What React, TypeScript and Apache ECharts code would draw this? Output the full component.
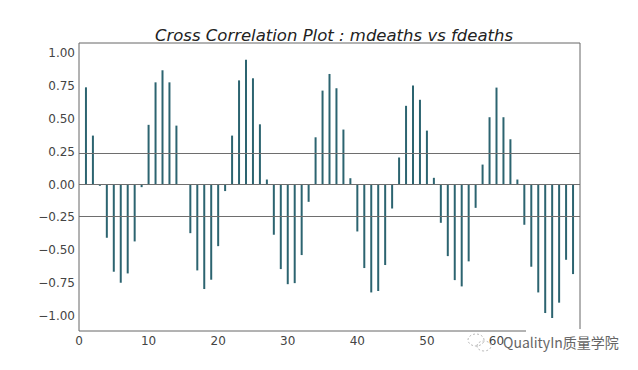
import React, { useEffect, useRef } from "react";
import * as echarts from "echarts";

const lags = [
  1, 2, 3, 4, 5, 6, 7, 8, 9, 10, 11, 12, 13, 14, 15, 16, 17, 18, 19, 20, 21, 22, 23, 24,
  25, 26, 27, 28, 29, 30, 31, 32, 33, 34, 35, 36, 37, 38, 39, 40, 41, 42, 43, 44, 45, 46, 47, 48,
  49, 50, 51, 52, 53, 54, 55, 56, 57, 58, 59, 60, 61, 62, 63, 64, 65, 66, 67, 68, 69, 70, 71,
];
const ccfValues = [
  0.741, 0.373, -0.01, -0.406, -0.665, -0.749, -0.678, -0.434, -0.02, 0.455, 0.779, 0.871,
  0.779, 0.449, 0.004, -0.371, -0.655, -0.797, -0.726, -0.47, -0.05, 0.373, 0.794, 0.952,
  0.81, 0.459, 0.038, -0.383, -0.645, -0.76, -0.752, -0.538, -0.132, 0.36, 0.716, 0.843,
  0.734, 0.419, 0.048, -0.358, -0.637, -0.823, -0.812, -0.614, -0.183, 0.206, 0.6, 0.754,
  0.646, 0.411, 0.051, -0.292, -0.546, -0.729, -0.777, -0.586, -0.178, 0.152, 0.513, 0.739,
  0.513, 0.345, 0.038, -0.307, -0.627, -0.823, -0.98, -1.018, -0.901, -0.574, -0.683,
];
const confLevel = 0.2357;
const hLines = [0, confLevel, -confLevel];
const xTicks = [0, 10, 20, 30, 40, 50, 60];
const yTicks = [-1, -0.75, -0.5, -0.25, 0, 0.25, 0.5, 0.75, 1];
const titleText = "Cross Correlation Plot : mdeaths vs fdeaths";
const watermarkText = "QualityIn质量学院";

export default function App() {
  const ref = useRef<HTMLDivElement>(null);
  useEffect(() => {
    if (!ref.current) return;
    const chart = echarts.init(ref.current, null, { renderer: "svg" });
    const font = "DejaVu Sans";
    chart.setOption({
      animation: false,
      backgroundColor: "#ffffff",
      title: {
        text: titleText,
        left: 329,
        textAlign: "center",
        top: 22,
        textStyle: {
          fontFamily: font,
          fontStyle: "italic",
          fontWeight: "normal",
          fontSize: 16.5,
          color: "#222",
        },
      },
      grid: {
        left: 79,
        right: 58,
        top: 43,
        bottom: 39,
        show: true,
        borderColor: "#666",
        borderWidth: 1,
        backgroundColor: "transparent",
      },
      xAxis: {
        type: "value",
        min: 0,
        max: 72,
        splitLine: { show: false },
        axisLine: { show: false },
        axisTick: { show: false },
        axisLabel: {
          customValues: xTicks,
          margin: 4,
          fontFamily: font,
          fontSize: 12,
          color: "#444",
        },
      },
      yAxis: {
        type: "value",
        min: -1.117,
        max: 1.079,
        splitLine: { show: false },
        axisLine: { show: false },
        axisTick: { show: false },
        axisLabel: {
          customValues: yTicks,
          margin: 4,
          fontFamily: font,
          fontSize: 12,
          color: "#444",
          formatter: (v: number) => (v < 0 ? "\u2212" : "") + Math.abs(v).toFixed(2),
        },
      },
      series: [
        {
          type: "bar",
          barWidth: 2,
          itemStyle: { color: "#2c6470" },
          data: lags.map((l, i) => [l, ccfValues[i]]),
          markLine: {
            silent: true,
            symbol: "none",
            label: { show: false },
            lineStyle: { color: "#6e6e6e", type: "solid", width: 1 },
            data: hLines.map((v) => ({ yAxis: v })),
          },
          z: 3,
        },
      ],
      graphic: [
        {
          type: "rect",
          z: 100,
          shape: { x: 526, y: 329, width: 100, height: 28 },
          style: { fill: "#ffffff" },
        },
        {
          type: "ellipse",
          z: 101,
          shape: { cx: 476, cy: 340, rx: 8, ry: 6 },
          style: { fill: "none", stroke: "#bbb", lineWidth: 1, lineDash: [2, 2] },
        },
        {
          type: "ellipse",
          z: 101,
          shape: { cx: 484, cy: 346, rx: 7, ry: 5 },
          style: { fill: "none", stroke: "#bbb", lineWidth: 1, lineDash: [2, 2] },
        },
        {
          type: "text",
          z: 101,
          x: 503,
          y: 342,
          style: {
            text: watermarkText,
            fontFamily: "Noto Sans CJK SC",
            fontSize: 14,
            fill: "#666",
            verticalAlign: "middle",
          },
        },
      ],
    });
    return () => chart.dispose();
  }, []);
  return (
    <div
      ref={ref}
      style={{ position: "absolute", left: 0, top: 0, width: 638, height: 370 }}
    />
  );
}
